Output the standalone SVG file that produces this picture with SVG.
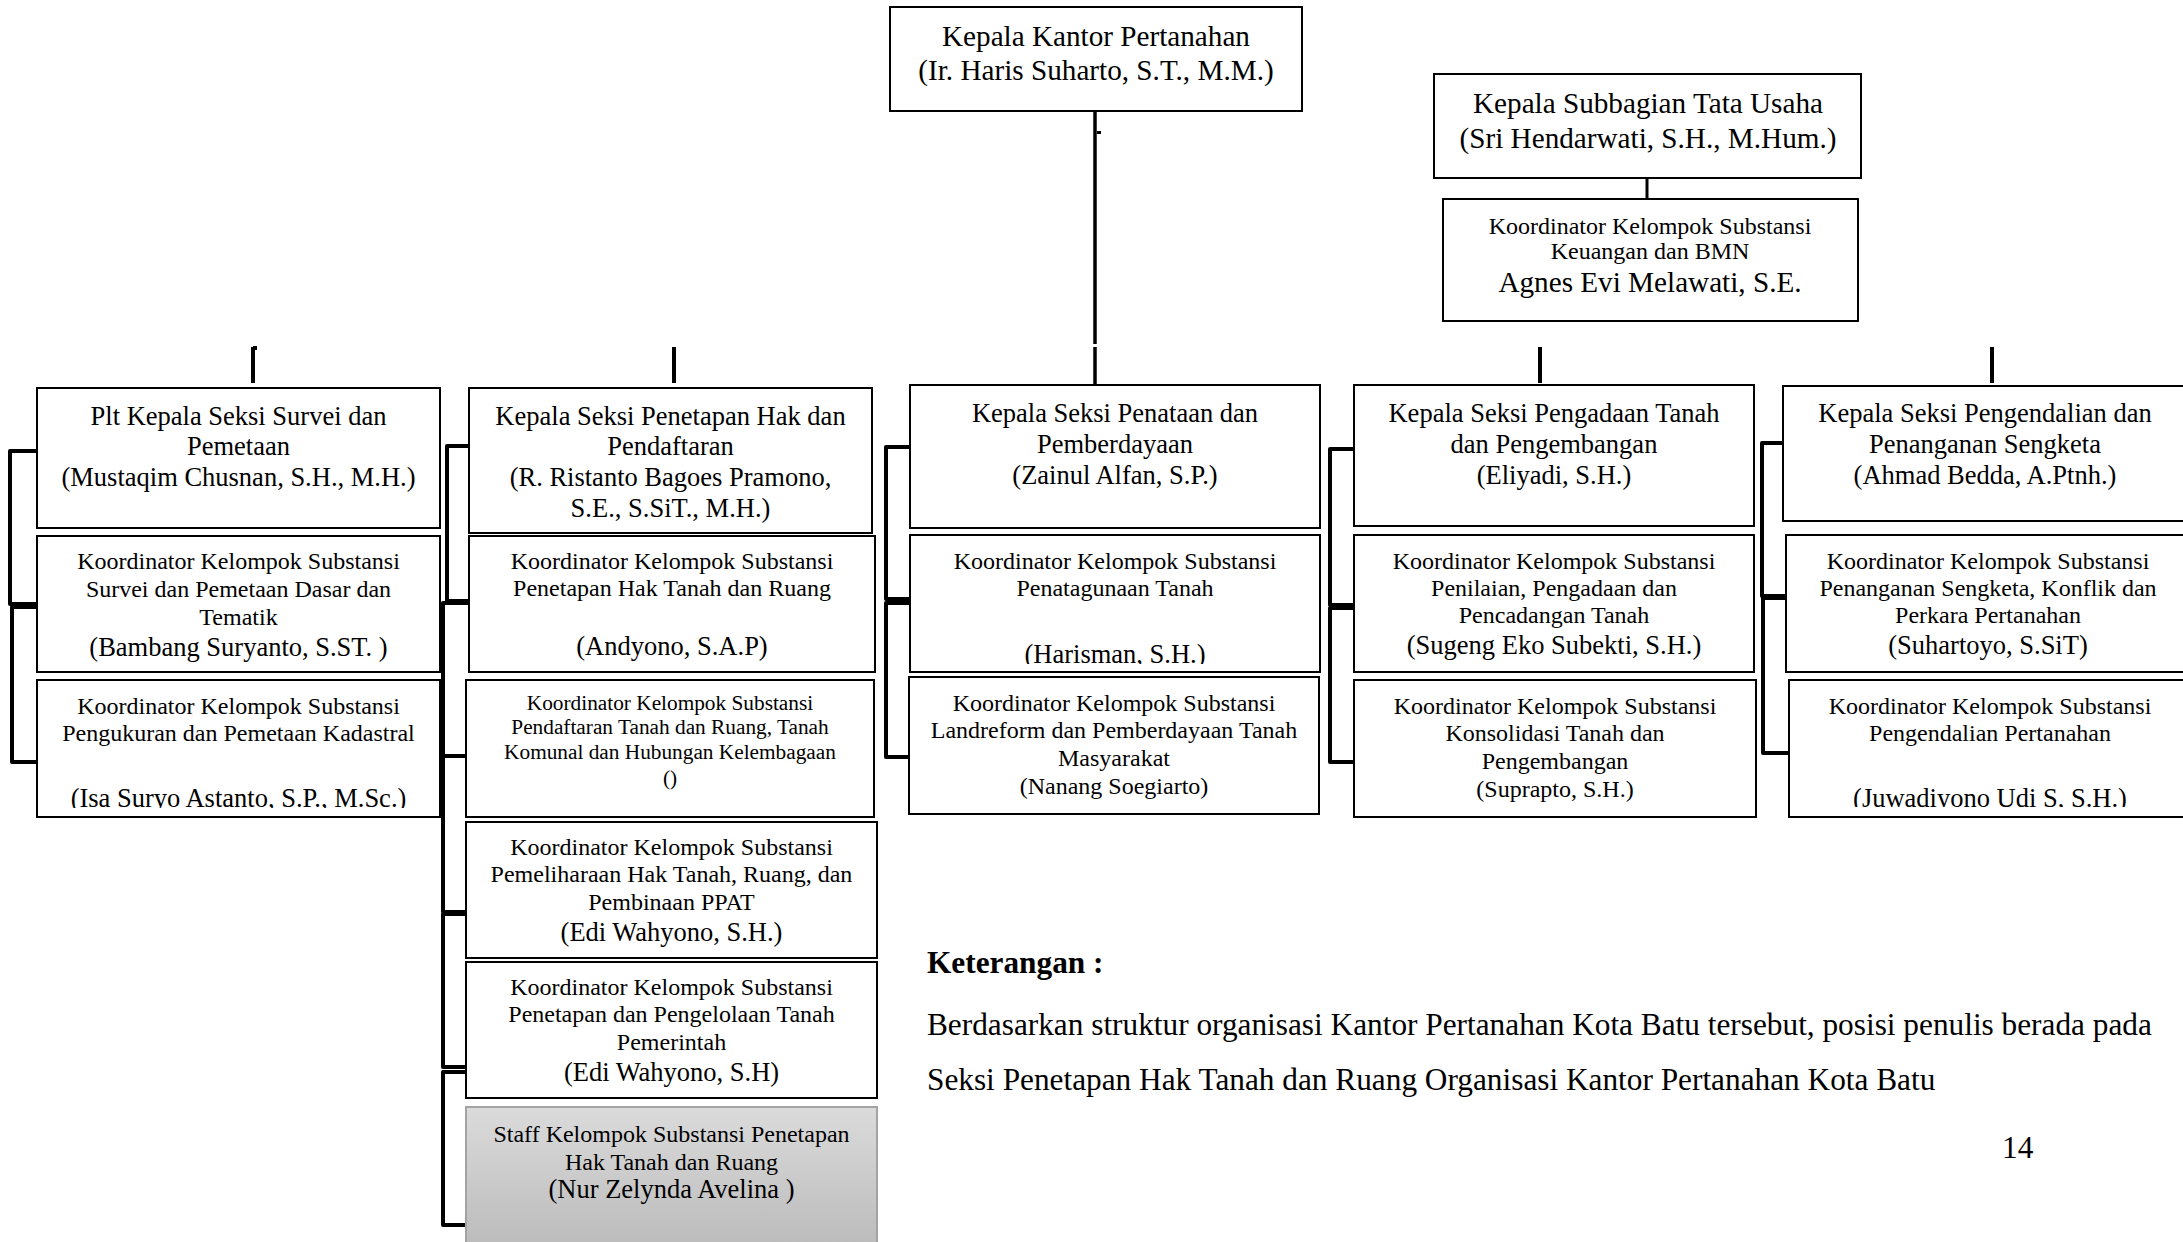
<svg xmlns="http://www.w3.org/2000/svg" width="2183" height="1242" viewBox="0 0 2183 1242">
<defs>
<linearGradient id="gray" x1="0" y1="0" x2="0" y2="1"><stop offset="0" stop-color="#dbdbdb"/><stop offset="1" stop-color="#b9b9b9"/></linearGradient>
<clipPath id="clipIsa"><rect x="37" y="680" width="403" height="128"/></clipPath>
<clipPath id="clipHar"><rect x="910" y="535" width="410" height="129"/></clipPath>
<clipPath id="clipJuw"><rect x="1789" y="680" width="400" height="127"/></clipPath>
</defs>
<style>
.box{fill:#fff;stroke:#000;stroke-width:2}
.gbox{fill:url(#gray);stroke:#a3a3a3;stroke-width:2}
text{font-family:"Liberation Serif","Times New Roman",serif;fill:#000;text-anchor:middle}
.f29{font-size:29.2px}
.f26{font-size:26.5px}
.f24{font-size:24px}
.f21{font-size:21.3px}
.body{font-size:31.3px;text-anchor:start}
.conn{fill:none;stroke:#000;stroke-width:4;stroke-linejoin:round}
</style>
<rect width="2183" height="1242" fill="#fff"/>

<g id="connectors" class="conn">
<path d="M1095,111 V344 M1095,347 V385" stroke-width="3.5"/>
<rect x="1097" y="131" width="4" height="3" fill="#000" stroke="none"/>
<path d="M1647,178 V199" stroke-width="3"/>
<path d="M253,347 V383 M253,348 H257 M674,347 V383 M1540,347 V383 M1992,347 V383"/>
<path d="M37,451 H10 V604 H37 M37,607 H12 V762 H37"/>
<path d="M469,446 H447 V601 H469 M469,603 H443 V912 H468 M443,756 H466 M466,914 H443 V1067 H466 M466,1072 H443 V1225 H466"/>
<path d="M910,447 H886 V599 H910 M910,603 H886 V757 H909"/>
<path d="M1354,449 H1330 V605 H1354 M1354,608 H1330 V762 H1354"/>
<path d="M1783,443 H1762 V596 H1786 M1786,598 H1763 V753 H1789"/>
</g>

<g id="kepala-kantor">
<rect class="box" x="890" y="7" width="412" height="104"/>
<text class="f29" x="1096" y="46">Kepala Kantor Pertanahan</text>
<text class="f29" x="1096" y="80">(Ir. Haris Suharto, S.T., M.M.)</text>
</g>

<g id="subbagian-tu">
<rect class="box" x="1434" y="74" width="427" height="104"/>
<text class="f29" x="1648" y="113">Kepala Subbagian Tata Usaha</text>
<text class="f29" x="1648" y="148">(Sri Hendarwati, S.H., M.Hum.)</text>
</g>

<g id="koord-keuangan">
<rect class="box" x="1443" y="199" width="415" height="122"/>
<text class="f24" x="1650" y="234">Koordinator Kelompok Substansi</text>
<text class="f24" x="1650" y="259">Keuangan dan BMN</text>
<text class="f29" x="1650" y="292">Agnes Evi Melawati, S.E.</text>
</g>

<g id="seksi-survei">
<rect class="box" x="37" y="388" width="403" height="140"/>
<text class="f26" x="238.5" y="425">Plt Kepala Seksi Survei dan</text>
<text class="f26" x="238.5" y="455">Pemetaan</text>
<text class="f26" x="238.5" y="486">(Mustaqim Chusnan, S.H., M.H.)</text>
</g>
<g id="koord-survei-dasar">
<rect class="box" x="37" y="536" width="403" height="136"/>
<text class="f24" x="238.5" y="569">Koordinator Kelompok Substansi</text>
<text class="f24" x="238.5" y="597">Survei dan Pemetaan Dasar dan</text>
<text class="f24" x="238.5" y="625">Tematik</text>
<text class="f26" x="238.5" y="656">(Bambang Suryanto, S.ST. )</text>
</g>
<g id="koord-kadastral">
<rect class="box" x="37" y="680" width="403" height="137"/>
<text class="f24" x="238.5" y="714">Koordinator Kelompok Substansi</text>
<text class="f24" x="238.5" y="741">Pengukuran dan Pemetaan Kadastral</text>
<text class="f26" x="238.5" y="807" clip-path="url(#clipIsa)">(Isa Suryo Astanto, S.P., M.Sc.)</text>
</g>

<g id="seksi-penetapan">
<rect class="box" x="469" y="388" width="403" height="145"/>
<text class="f26" x="670.5" y="425">Kepala Seksi Penetapan Hak dan</text>
<text class="f26" x="670.5" y="455">Pendaftaran</text>
<text class="f26" x="670.5" y="486">(R. Ristanto Bagoes Pramono,</text>
<text class="f26" x="670.5" y="517">S.E., S.SiT., M.H.)</text>
</g>
<g id="koord-penetapan-hak">
<rect class="box" x="469" y="536" width="406" height="136"/>
<text class="f24" x="672" y="569">Koordinator Kelompok Substansi</text>
<text class="f24" x="672" y="596">Penetapan Hak Tanah dan Ruang</text>
<text class="f26" x="672" y="655">(Andyono, S.A.P)</text>
</g>
<g id="koord-pendaftaran">
<rect class="box" x="466" y="680" width="408" height="137"/>
<text class="f21" x="670" y="710">Koordinator Kelompok Substansi</text>
<text class="f21" x="670" y="734">Pendaftaran Tanah dan Ruang, Tanah</text>
<text class="f21" x="670" y="759">Komunal dan Hubungan Kelembagaan</text>
<text class="f21" x="670" y="785">()</text>
</g>
<g id="koord-pemeliharaan">
<rect class="box" x="466" y="822" width="411" height="136"/>
<text class="f24" x="671.5" y="855">Koordinator Kelompok Substansi</text>
<text class="f24" x="671.5" y="882">Pemeliharaan Hak Tanah, Ruang, dan</text>
<text class="f24" x="671.5" y="910">Pembinaan PPAT</text>
<text class="f26" x="671.5" y="941">(Edi Wahyono, S.H.)</text>
</g>
<g id="koord-tanah-pemerintah">
<rect class="box" x="466" y="962" width="411" height="136"/>
<text class="f24" x="671.5" y="995">Koordinator Kelompok Substansi</text>
<text class="f24" x="671.5" y="1022">Penetapan dan Pengelolaan Tanah</text>
<text class="f24" x="671.5" y="1050">Pemerintah</text>
<text class="f26" x="671.5" y="1081">(Edi Wahyono, S.H)</text>
</g>
<g id="staff-penetapan">
<rect class="gbox" x="466" y="1107" width="411" height="150"/>
<text class="f24" x="671.5" y="1142">Staff Kelompok Substansi Penetapan</text>
<text class="f24" x="671.5" y="1170">Hak Tanah dan Ruang</text>
<text class="f26" x="671.5" y="1198">(Nur Zelynda Avelina )</text>
</g>

<g id="seksi-penataan">
<rect class="box" x="910" y="385" width="410" height="143"/>
<text class="f26" x="1115" y="422">Kepala Seksi Penataan dan</text>
<text class="f26" x="1115" y="453">Pemberdayaan</text>
<text class="f26" x="1115" y="484">(Zainul Alfan, S.P.)</text>
</g>
<g id="koord-penatagunaan">
<rect class="box" x="910" y="535" width="410" height="137"/>
<text class="f24" x="1115" y="569">Koordinator Kelompok Substansi</text>
<text class="f24" x="1115" y="596">Penatagunaan Tanah</text>
<text class="f26" x="1115" y="663" clip-path="url(#clipHar)">(Harisman, S.H.)</text>
</g>
<g id="koord-landreform">
<rect class="box" x="909" y="677" width="410" height="137"/>
<text class="f24" x="1114" y="711">Koordinator Kelompok Substansi</text>
<text class="f24" x="1114" y="738">Landreform dan Pemberdayaan Tanah</text>
<text class="f24" x="1114" y="766">Masyarakat</text>
<text class="f24" x="1114" y="794">(Nanang Soegiarto)</text>
</g>

<g id="seksi-pengadaan">
<rect class="box" x="1354" y="385" width="400" height="141"/>
<text class="f26" x="1554" y="422">Kepala Seksi Pengadaan Tanah</text>
<text class="f26" x="1554" y="453">dan Pengembangan</text>
<text class="f26" x="1554" y="484">(Eliyadi, S.H.)</text>
</g>
<g id="koord-penilaian">
<rect class="box" x="1354" y="535" width="400" height="137"/>
<text class="f24" x="1554" y="569">Koordinator Kelompok Substansi</text>
<text class="f24" x="1554" y="596">Penilaian, Pengadaan dan</text>
<text class="f24" x="1554" y="623">Pencadangan Tanah</text>
<text class="f26" x="1554" y="654">(Sugeng Eko Subekti, S.H.)</text>
</g>
<g id="koord-konsolidasi">
<rect class="box" x="1354" y="680" width="402" height="137"/>
<text class="f24" x="1555" y="714">Koordinator Kelompok Substansi</text>
<text class="f24" x="1555" y="741">Konsolidasi Tanah dan</text>
<text class="f24" x="1555" y="769">Pengembangan</text>
<text class="f24" x="1555" y="797">(Suprapto, S.H.)</text>
</g>

<g id="seksi-pengendalian">
<rect class="box" x="1783" y="386" width="410" height="135"/>
<text class="f26" x="1985" y="422">Kepala Seksi Pengendalian dan</text>
<text class="f26" x="1985" y="453">Penanganan Sengketa</text>
<text class="f26" x="1985" y="484">(Ahmad Bedda, A.Ptnh.)</text>
</g>
<g id="koord-sengketa">
<rect class="box" x="1786" y="535" width="410" height="137"/>
<text class="f24" x="1988" y="569">Koordinator Kelompok Substansi</text>
<text class="f24" x="1988" y="596">Penanganan Sengketa, Konflik dan</text>
<text class="f24" x="1988" y="623">Perkara Pertanahan</text>
<text class="f26" x="1988" y="654">(Suhartoyo, S.SiT)</text>
</g>
<g id="koord-pengendalian">
<rect class="box" x="1789" y="680" width="410" height="137"/>
<text class="f24" x="1990" y="714">Koordinator Kelompok Substansi</text>
<text class="f24" x="1990" y="741">Pengendalian Pertanahan</text>
<text class="f26" x="1990" y="807" clip-path="url(#clipJuw)">(Juwadiyono Udi S, S.H.)</text>
</g>

<g id="keterangan">
<text class="body" x="927" y="973" font-weight="bold">Keterangan :</text>
<text class="body" x="927" y="1035">Berdasarkan struktur organisasi Kantor Pertanahan Kota Batu tersebut, posisi penulis berada pada</text>
<text class="body" x="927" y="1090">Seksi Penetapan Hak Tanah dan Ruang Organisasi Kantor Pertanahan Kota Batu</text>
<text class="body" x="2002" y="1158">14</text>
</g>
</svg>
